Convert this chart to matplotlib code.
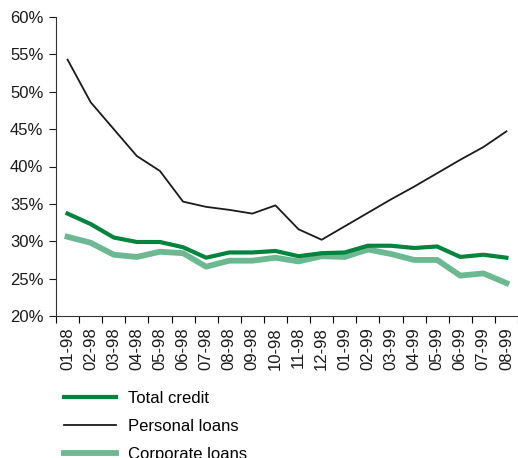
import matplotlib
matplotlib.use("Agg")
import matplotlib.pyplot as plt
import numpy as np
from matplotlib.ticker import FixedLocator, FuncFormatter

plt.rcParams['font.family'] = ['Liberation Sans', 'DejaVu Sans']

months = ["01-98", "02-98", "03-98", "04-98", "05-98", "06-98", "07-98",
          "08-98", "09-98", "10-98", "11-98", "12-98", "01-99", "02-99",
          "03-99", "04-99", "05-99", "06-99", "07-99", "08-99"]

total_credit = [33.7, 32.3, 30.5, 29.9, 29.9, 29.2, 27.8, 28.5, 28.5, 28.7,
                28.0, 28.4, 28.5, 29.4, 29.4, 29.1, 29.3, 27.9, 28.2, 27.8]
personal_loans = [54.3, 48.6, 45.0, 41.4, 39.4, 35.3, 34.6, 34.2, 33.7, 34.8,
                  31.6, 30.2, 32.0, 33.8, 35.6, 37.3, 39.1, 40.9, 42.6, 44.7]
corporate_loans = [30.6, 29.8, 28.2, 27.9, 28.6, 28.4, 26.6, 27.4, 27.4, 27.8,
                   27.3, 28.0, 27.9, 28.9, 28.3, 27.5, 27.5, 25.4, 25.7, 24.4]

dark_green = "#00843d"
light_green = "#6cb891"

fig = plt.figure(figsize=(5.18, 4.58), dpi=100)
ax = fig.add_axes([56 / 518, 1 - 316 / 458, 1 - 56 / 518, (316 - 17) / 458])

x = np.arange(len(months))
ax.plot(x, total_credit, color=dark_green, lw=3.0, label="Total credit",
        zorder=3)
ax.plot(x, personal_loans, color="#1a1a1a", lw=1.3, label="Personal loans")
ax.plot(x, corporate_loans, color=light_green, lw=4.2, label="Corporate loans")

ax.set_xlim(-0.5, len(months) - 0.5)
ax.set_ylim(20, 60)
ax.set_yticks(np.arange(20, 61, 5))
ax.yaxis.set_major_formatter(FuncFormatter(lambda v, p: f"{v:.0f}%"))

ax.set_xticks(x)
ax.set_xticklabels(months, rotation=90)
ax.xaxis.set_minor_locator(FixedLocator(np.arange(-0.5, len(months), 1.0)))
ax.tick_params(axis="x", which="major", length=0, pad=8)
ax.tick_params(axis="x", which="minor", length=5, width=0.8)
ax.tick_params(axis="y", length=5, width=0.8, pad=4)
ax.tick_params(labelsize=12, colors="#1a1a1a")

for s in ["top", "right"]:
    ax.spines[s].set_visible(False)
for s in ["left", "bottom"]:
    ax.spines[s].set_linewidth(0.8)
    ax.spines[s].set_color("#333333")

fig.legend(loc="upper left", bbox_to_anchor=(64 / 518, 1 - 391 / 458),
           frameon=False, fontsize=12, handlelength=3.1, handletextpad=0.75,
           labelspacing=0.78, borderpad=0, borderaxespad=0)

fig.savefig("out.png", dpi=100)
